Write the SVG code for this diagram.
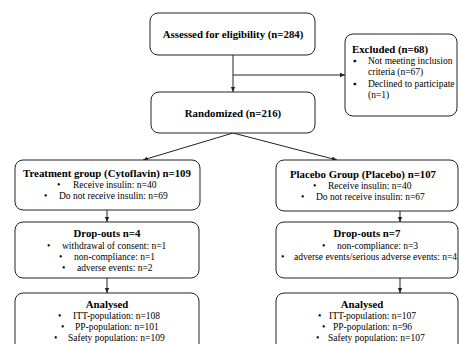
<svg xmlns="http://www.w3.org/2000/svg" width="459" height="344" viewBox="0 0 459 344" font-family="'Liberation Serif','Times New Roman',serif">
<style>
.box{fill:#fff;stroke:#222;stroke-width:1}
text{font-family:"Liberation Serif","Times New Roman","DejaVu Serif",serif;font-size:9.5px;fill:#000}
.b{font-weight:bold;font-size:10.8px}
.c{text-anchor:middle}
.ln{stroke:#222;stroke-width:1;fill:none}
</style>
<defs>
<marker id="ah" markerWidth="6" markerHeight="6" refX="5" refY="3" orient="auto" markerUnits="userSpaceOnUse">
<path d="M0,0.8 L5,3 L0,5.2 Z" fill="#222"/>
</marker>
</defs>
<g id="connectors">
<line class="ln" x1="233" y1="55" x2="233" y2="92" marker-end="url(#ah)"/>
<line class="ln" x1="233" y1="75" x2="345" y2="75" marker-end="url(#ah)"/>
<line class="ln" x1="233" y1="133" x2="143" y2="160" marker-end="url(#ah)"/>
<line class="ln" x1="233" y1="133" x2="337" y2="160" marker-end="url(#ah)"/>
<line class="ln" x1="107" y1="210" x2="107" y2="222" marker-end="url(#ah)"/>
<line class="ln" x1="400" y1="211" x2="400" y2="222" marker-end="url(#ah)"/>
<line class="ln" x1="107" y1="278" x2="107" y2="293" marker-end="url(#ah)"/>
<line class="ln" x1="400" y1="278" x2="400" y2="293" marker-end="url(#ah)"/>
</g>
<g id="assessed">
<rect class="box" x="150" y="13" width="165" height="42" rx="8"/>
<text class="b c" x="233" y="37.5">Assessed for eligibility (n=284)</text>
</g>
<g id="excluded">
<rect class="box" x="345" y="34" width="112" height="82" rx="8"/>
<text class="b" x="352" y="53">Excluded (n=68)</text>
<text x="353" y="64">▪</text>
<text x="368" y="64">Not meeting inclusion</text>
<text x="368" y="75">criteria (n=67)</text>
<text x="353" y="87">▪</text>
<text x="368" y="87">Declined to participate</text>
<text x="368" y="98">(n=1)</text>
</g>
<g id="randomized">
<rect class="box" x="151" y="92" width="164" height="41" rx="8"/>
<text class="b c" x="233" y="116.5">Randomized (n=216)</text>
</g>
<g id="treatment">
<rect class="box" x="15" y="160" width="185" height="50" rx="8"/>
<text class="b c" x="107" y="177">Treatment group (Cytoflavin) n=109</text>
<text x="57" y="188">•</text><text x="73" y="188">Receive insulin: n=40</text>
<text x="44" y="199">•</text><text x="59" y="199">Do not receive insulin: n=69</text>
</g>
<g id="placebo">
<rect class="box" x="276" y="160" width="182" height="51" rx="8"/>
<text class="b c" x="363" y="177.5">Placebo Group (Placebo) n=107</text>
<text x="313" y="188.5">•</text><text x="328" y="188.5">Receive insulin: n=40</text>
<text x="301" y="199.5">•</text><text x="316" y="199.5">Do not receive insulin: n=67</text>
</g>
<g id="dropouts-left">
<rect class="box" x="15" y="222" width="184" height="56" rx="8"/>
<text class="b c" x="107" y="237">Drop-outs n=4</text>
<text x="47" y="248.5">•</text><text x="62" y="248.5">withdrawal of consent: n=1</text>
<text x="59" y="259.5">•</text><text x="74" y="259.5">non-compliance: n=1</text>
<text x="62" y="270.5">•</text><text x="77" y="270.5">adverse events: n=2</text>
</g>
<g id="dropouts-right">
<rect class="box" x="276" y="222" width="182" height="56" rx="8"/>
<text class="b c" x="367" y="237">Drop-outs n=7</text>
<text x="322" y="248.5">•</text><text x="337" y="248.5">non-compliance: n=3</text>
<text x="281" y="259.5">•</text><text x="294" y="259.5">adverse events/serious adverse events: n=4</text>
</g>
<g id="analysed-left">
<rect class="box" x="15" y="293" width="184" height="60" rx="8"/>
<text class="b c" x="107" y="307.5">Analysed</text>
<text x="58" y="318.5">•</text><text x="73" y="318.5">ITT-population: n=108</text>
<text x="61" y="329.5">•</text><text x="75" y="329.5">PP-population: n=101</text>
<text x="54" y="340.5">•</text><text x="68" y="340.5">Safety population: n=109</text>
</g>
<g id="analysed-right">
<rect class="box" x="276" y="293" width="182" height="60" rx="8"/>
<text class="b c" x="362" y="307.5">Analysed</text>
<text x="318" y="318.5">•</text><text x="329" y="318.5">ITT-population: n=107</text>
<text x="322" y="329.5">•</text><text x="333" y="329.5">PP-population: n=96</text>
<text x="316" y="340.5">•</text><text x="328" y="340.5">Safety population: n=107</text>
</g>
</svg>
